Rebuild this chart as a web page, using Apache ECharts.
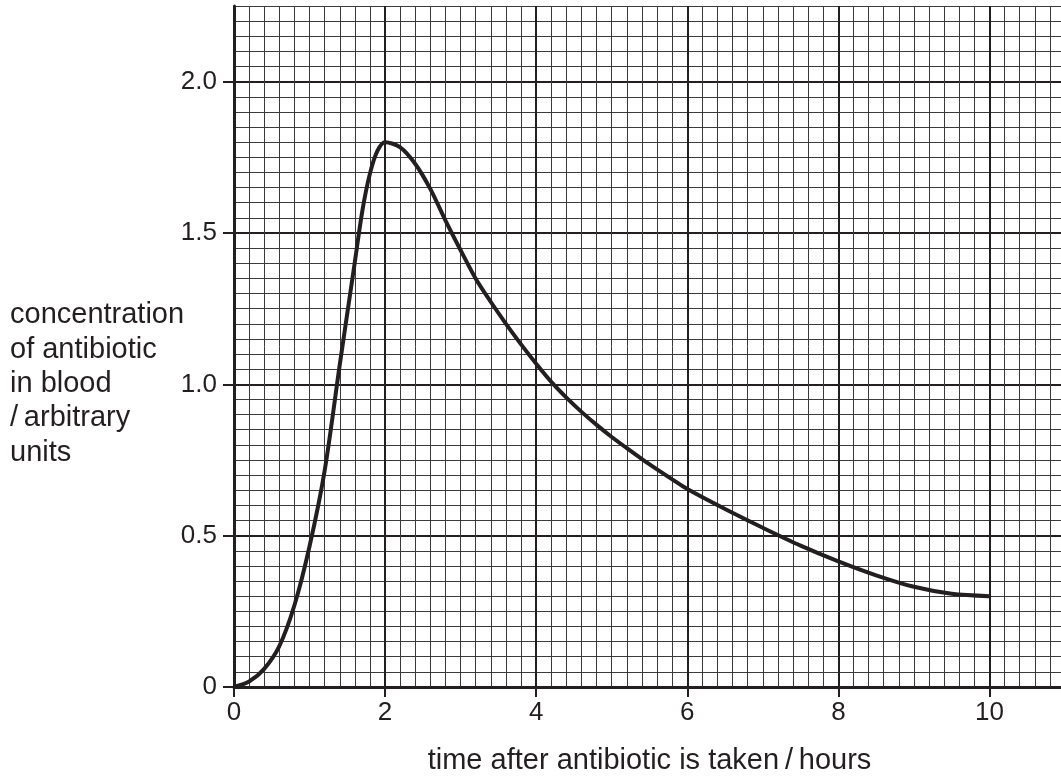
<!DOCTYPE html>
<html>
<head>
<meta charset="UTF-8">
<title>concentration of antibiotic in blood</title>
<script src="https://cdn.jsdelivr.net/npm/echarts@6/dist/echarts.min.js"></script>
<style>
  html, body { margin: 0; padding: 0; background: #fff; }
</style>
</head>
<body>
<div id="main" style="width:1061px;height:778px"></div>
<script>
// time after antibiotic is taken (hours) and concentration
var hours = [0, 0.2, 0.4, 0.6, 0.8, 1.0, 1.2, 1.4, 1.6, 1.7, 1.8, 1.9, 2.0,
             2.2, 2.4, 2.6, 2.8, 3.0, 3.2, 3.4, 3.6, 3.8, 4.0, 4.2, 4.4, 4.6, 4.8, 5.0,
             5.2, 5.4, 5.6, 5.8, 6.0, 6.5, 7.0, 7.5, 8.0, 8.5, 9.0, 9.5, 10];
var concentration = [0, 0.018, 0.06, 0.135, 0.27, 0.465, 0.715, 1.065, 1.405, 1.575, 1.697, 1.772, 1.80,
                     1.783, 1.728, 1.645, 1.541, 1.443, 1.349, 1.272, 1.200, 1.132, 1.068, 1.008, 0.956, 0.909, 0.866, 0.826,
                     0.789, 0.753, 0.719, 0.686, 0.654, 0.588, 0.526, 0.467, 0.415, 0.369, 0.331, 0.308, 0.300];
var xTicks = [0, 2, 4, 6, 8, 10];
var yTicks = [0, 0.5, 1.0, 1.5, 2.0];
var xName = 'time after antibiotic is taken\u2009/\u2009hours';
var yName = ['concentration', 'of antibiotic', 'in blood', '/\u2009arbitrary', 'units'];

var ink = '#231f20';
var font = '"Liberation Sans", Arial, Helvetica, sans-serif';

var chart = echarts.init(document.getElementById('main'));

// graph paper: fine lines, heavy lines, then the axis with labels
function paperAxis(max, step, lineStyle, pos) {
  return {
    type: 'value', min: 0, max: max, interval: step, position: pos,
    axisLine: { show: false }, axisTick: { show: false }, axisLabel: { show: false },
    splitLine: { show: true, lineStyle: lineStyle }
  };
}

var option = {
  animation: false,
  backgroundColor: '#fff',
  grid: { left: 234, right: -4, top: 6, bottom: 91, outerBoundsMode: 'none' },
  xAxis: [
    paperAxis(11, 0.2, { color: '#3a3a3a', width: 1 }, 'bottom'),
    paperAxis(11, 1, { color: [ink, 'rgba(0,0,0,0)'], width: 2 }, 'bottom'),
    {
      type: 'value', min: 0, max: 11, interval: 1, position: 'bottom',
      axisLine: { show: true, onZero: false, lineStyle: { color: ink, width: 3 } },
      axisTick: { show: true, customValues: xTicks, length: 10, lineStyle: { color: ink, width: 2 } },
      axisLabel: { customValues: xTicks, margin: 13, fontSize: 26, fontFamily: font, color: ink },
      splitLine: { show: false },
      name: xName, nameLocation: 'middle', nameGap: 59,
      nameTextStyle: { fontSize: 29, fontFamily: font, color: ink }
    }
  ],
  yAxis: [
    paperAxis(2.25, 0.05, { color: '#3a3a3a', width: 1 }, 'left'),
    paperAxis(2.25, 0.25, { color: [ink, 'rgba(0,0,0,0)'], width: 2 }, 'left'),
    {
      type: 'value', min: 0, max: 2.25, interval: 0.25, position: 'left',
      axisLine: { show: true, onZero: false, lineStyle: { color: ink, width: 3 } },
      axisTick: { show: true, customValues: yTicks, length: 11, lineStyle: { color: ink, width: 2 } },
      axisLabel: {
        customValues: yTicks, margin: 17, fontSize: 26, fontFamily: font, color: ink,
        formatter: function (v) { return v === 0 ? '0' : v.toFixed(1); }
      },
      splitLine: { show: false }
    }
  ],
  graphic: [{
    type: 'text', x: 10, y: 384,
    style: {
      text: yName.join('\n'), fontSize: 29, fontFamily: font, fill: ink,
      lineHeight: 34.3, align: 'left', verticalAlign: 'middle'
    }
  }],
  series: [{
    type: 'line', xAxisIndex: 2, yAxisIndex: 2,
    smooth: 0.3, showSymbol: false, z: 5,
    lineStyle: { color: ink, width: 4 },
    data: hours.map(function (h, i) { return [h, concentration[i]]; })
  }]
};
chart.setOption(option);
</script>
</body>
</html>
